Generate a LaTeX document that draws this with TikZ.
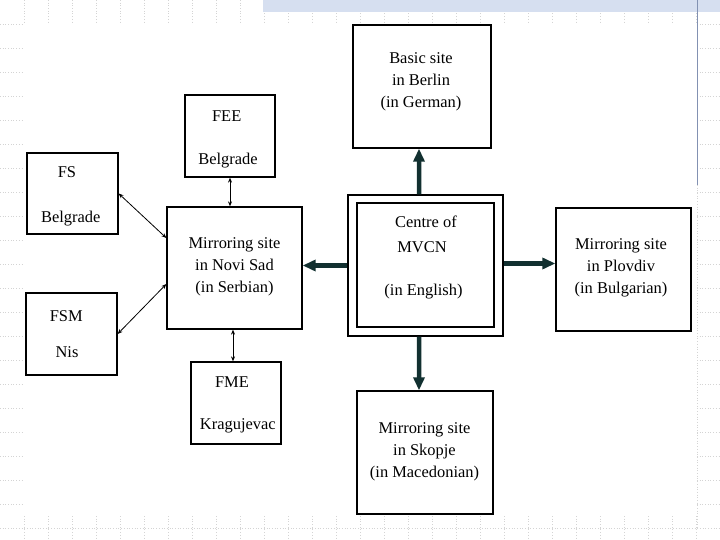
\documentclass[tikz,border=0pt]{standalone}
\usepackage{fontspec}
\setmainfont{Liberation Serif}
\usetikzlibrary{arrows.meta,calc}
\definecolor{arrowdark}{RGB}{18,48,48}
\definecolor{gridgray}{RGB}{212,212,212}
\definecolor{stripblue}{RGB}{214,223,240}
\definecolor{barblue}{RGB}{130,145,178}
\tikzset{
  box/.style={draw=black, line width=1.3bp, inner sep=0pt, fill=white},
  lbl/.style={inner sep=0pt, font=\fontsize{16.5}{22}\selectfont, align=center},
  bigarrow/.style={draw=arrowdark, line width=4.5bp, -{Triangle[width=11bp,length=13bp]}},
  smallarrow/.style={draw=black, line width=0.8bp, {Stealth[length=5bp,width=4bp]}-{Stealth[length=5bp,width=4bp]}},
  gridline/.style={draw=gridgray, line width=0.7bp, dotted}
}
\begin{document}
\begin{tikzpicture}[x=1bp,y=-1bp]
\useasboundingbox (0,0) rectangle (720,540);
\fill[white] (0,0) rectangle (720,540);
% background decoration
\foreach \yy in {24,48,...,504} {
  \draw[gridline] (0,\yy) -- (24,\yy);
  \draw[gridline] (697,\yy) -- (720,\yy);
}
\foreach \xx in {24,48,...,696} {
  \draw[gridline] (\xx,0) -- (\xx,24);
  \draw[gridline] (\xx,516) -- (\xx,540);
}
\draw[gridline] (0,528) -- (720,528);
\draw[gridline] (697,185) -- (697,528);
\fill[stripblue] (263,0) rectangle (720,12);
\draw[barblue, line width=1bp] (697,0) -- (697,185);

% boxes
\node[box, minimum width=138bp, minimum height=123bp] (berlin) at (422,86.5) {};
\node[box, minimum width=90bp, minimum height=82bp] (fee) at (230,136) {};
\node[box, minimum width=91bp, minimum height=81bp] (fs) at (72.5,193.5) {};
\node[box, minimum width=91bp, minimum height=82bp] (fsm) at (71.5,334) {};
\node[box, minimum width=135bp, minimum height=122bp] (novisad) at (234.5,268) {};
\node[box, minimum width=90bp, minimum height=82bp] (fme) at (236,403) {};
\node[box, minimum width=136bp, minimum height=123bp] (skopje) at (425,452.5) {};
\node[box, line width=1.1bp, minimum width=155bp, minimum height=141bp] (centre) at (425.5,265.5) {};
\node[box, minimum width=137bp, minimum height=124bp] (centreinner) at (425.5,265) {};
\node[box, minimum width=135bp, minimum height=123bp] (plovdiv) at (623.5,269.5) {};

% labels
\node[lbl] (tberlin) at (421,81.5) {Basic site\\in Berlin\\(in German)};
\node[lbl, anchor=base] (tfee) at (226.7,121.7) {FEE};
\node[lbl, anchor=base] (tfeeb) at (228,165) {Belgrade};
\node[lbl, anchor=base] (tfs) at (67,178) {FS};
\node[lbl, anchor=base] (tfsb) at (70.8,222.7) {Belgrade};
\node[lbl, anchor=base] (tfsm) at (66.3,321) {FSM};
\node[lbl, anchor=base] (tnis) at (67,357) {Nis};
\node[lbl] (tnovi) at (234.5,267) {Mirroring site\\in Novi Sad\\(in Serbian)};
\node[lbl, anchor=base] (tfme) at (232,387.7) {FME};
\node[lbl, anchor=base] (tkrag) at (237.8,429.3) {Kragujevac};
\node[lbl] (tskopje) at (424.5,452) {Mirroring site\\in Skopje\\(in Macedonian)};
\node[lbl, anchor=base] (tcentre) at (426,228) {Centre of};
\node[lbl, anchor=base] (tmvcn) at (422,252.5) {MVCN};
\node[lbl, anchor=base] (tenglish) at (423.5,295) {(in English)};
\node[lbl] (tplovdiv) at (621,268) {Mirroring site\\in Plovdiv\\(in Bulgarian)};

% connectors
\draw[bigarrow] ([xshift=-6.5bp]centre.north) -- ([xshift=-3bp]berlin.south);
\draw[bigarrow] (centre.west) -- (centre.west -| novisad.east);
\draw[bigarrow] ([yshift=2bp]centre.east) -- ([yshift=2bp]centre.east -| plovdiv.west);
\draw[bigarrow] ([xshift=-6.5bp]centre.south) -- ([xshift=-6bp]skopje.north);

\draw[smallarrow] (fee.south) -- (fee.south |- novisad.north);
\draw[smallarrow] ([xshift=-3bp]fme.north |- novisad.south) -- ([xshift=-3bp]fme.north);
\draw[smallarrow] (fs.east) -- ([yshift=30bp]novisad.west);
\draw[smallarrow] (fsm.east) -- ([yshift=-16bp]novisad.west);
\end{tikzpicture}
\end{document}
